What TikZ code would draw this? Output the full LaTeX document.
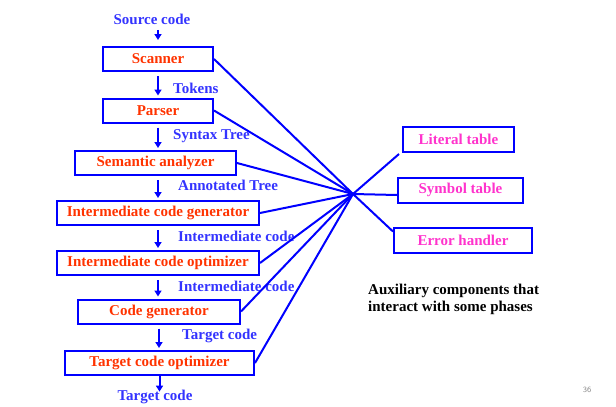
\documentclass[tikz,border=0pt]{standalone}
\usepackage{fontspec}
\setmainfont{Liberation Serif}
\usepackage{xcolor}
\usetikzlibrary{calc}
\usetikzlibrary{positioning}
\usetikzlibrary{arrows.meta}

\definecolor{boxblue}{RGB}{0,0,255}
\definecolor{phasered}{RGB}{255,51,0}
\definecolor{flowblue}{RGB}{51,51,255}
\definecolor{auxpink}{RGB}{255,51,204}

\begin{document}
\begin{tikzpicture}[
		x=1pt, y=-1pt,
		font=\fontsize{15}{17}\selectfont\bfseries,
		ph/.style = {rectangle, draw=boxblue, line width=2pt, text=phasered, minimum height=24, inner sep=2},
		ax/.style = {rectangle, draw=boxblue, line width=2pt, text=auxpink, minimum height=25, inner sep=2},
		lb/.style = {text=flowblue, anchor=west, inner sep=0},
		f/.style = {-{Triangle[length=6pt, width=7pt]}, line width=2pt, draw=boxblue, shorten <=4, shorten >=2},
		c/.style = {line width=2pt, draw=boxblue}
		]
		\useasboundingbox (0,0) rectangle (616,407);
		
		%Nodes
		\node[text=flowblue]	(src)	at	(152, 19)	{Source code};
		\node[ph, minimum width=110]	(scan)	at	(158, 59)	{Scanner};
		\node[ph, minimum width=110]	(pars)	at	(158, 110.5)	{Parser};
		\node[ph, minimum width=161]	(sem)	at	(155.5, 163)	{Semantic analyzer};
		\node[ph, minimum width=202]	(icg)	at	(158, 213)	{Intermediate code generator};
		\node[ph, minimum width=202]	(ico)	at	(158, 263)	{Intermediate code optimizer};
		\node[ph, minimum width=162]	(cg)	at	(159, 311.5)	{Code generator};
		\node[ph, minimum width=189]	(tco)	at	(159.5, 363)	{Target code optimizer};
		\node[text=flowblue]	(out)	at	(155, 397)	{Target code};
		
		\node[lb]	(l1)	at	(173, 88)	{Tokens};
		\node[lb]	(l2)	at	(173, 136)	{Syntax Tree};
		\node[lb]	(l3)	at	(178, 185)	{Annotated Tree};
		\node[lb]	(l4)	at	(178, 236)	{Intermediate code};
		\node[lb]	(l5)	at	(178, 286)	{Intermediate code};
		\node[lb]	(l6)	at	(182, 336)	{Target code};
		
		\node[ax, minimum width=111]	(lit)	at	(458.5, 139.5)	{Literal table};
		\node[ax, minimum width=125]	(sym)	at	(460.5, 190)	{Symbol table};
		\node[ax, minimum width=138]	(err)	at	(463, 240)	{Error handler};
		
		\node[anchor=north west, align=left, inner sep=0]	(note)	at	(368, 284)	{Auxiliary components that\\interact with some phases};
		\node[text=black!45, font=\fontsize{8}{9}\sffamily]	(pg)	at	(587, 390)	{36};
		
		\coordinate	(hub)	at	(353, 194);
		\coordinate	(litend)	at	(399, 154);
		
		%Lines
		\draw[f, shorten <=2, shorten >=6]	(scan.north |- src.south)	--	(scan.north);
		\draw[f]	(scan.south)	--	(scan.south |- pars.north);
		\draw[f]	(pars.south)	--	(pars.south |- sem.north);
		\draw[f]	(icg.north |- sem.south)	--	(icg.north);
		\draw[f]	(icg.south)	--	(icg.south |- ico.north);
		\draw[f]	(ico.south)	--	(ico.south |- cg.north);
		\draw[f]	(cg.south)	--	(cg.south |- tco.north);
		\draw[f, shorten <=0, shorten >=-5]	(tco.south)	--	(tco.south |- out.north);
		
		\foreach \p in {scan, pars, sem, icg, ico, cg, tco}
			\draw[c]	(\p.east)	--	(hub);
		\draw[c]	(hub)	--	(litend);
		\draw[c]	(hub)	--	($(sym.west)+(0,5)$);
		\draw[c]	(hub)	--	($(err.north west)+(0,5)$);
	\end{tikzpicture}
\end{document}
